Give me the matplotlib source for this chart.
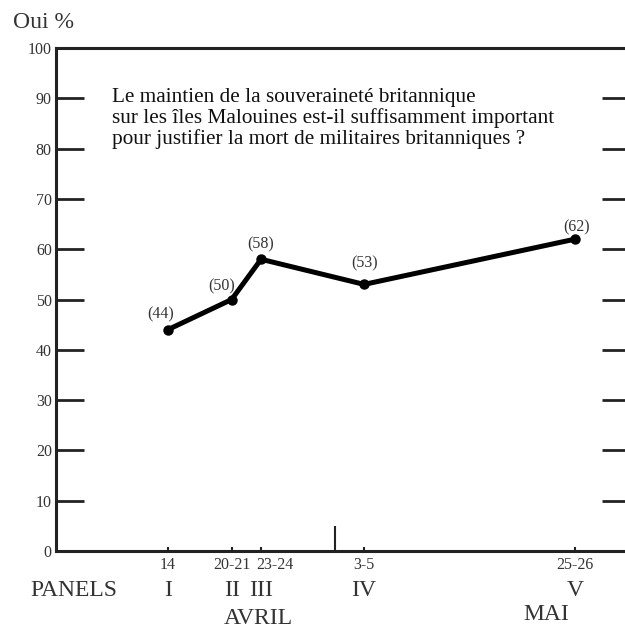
import matplotlib.pyplot as plt
from matplotlib.transforms import blended_transform_factory

# day index: April = 1..30, May = 31..
days = [14, 20.5, 23.5, 34, 55.5]
oui = [44, 50, 58, 53, 62]
dates = ["14", "20-21", "23-24", "3-5", "25-26"]
panels = ["I", "II", "III", "IV", "V"]
month_break = 31

question = ("Le maintien de la souveraineté britannique\n"
            "sur les îles Malouines est-il suffisamment important\n"
            "pour justifier la mort de militaires britanniques ?")

plt.rcParams['font.family'] = ['Liberation Serif', 'DejaVu Serif']

fig = plt.figure(figsize=(6.25, 6.30), dpi=100)
ax = fig.add_axes([56 / 625, 1 - 551 / 630, 574 / 625, 503 / 630])
ax.set_xlim(2.6, 61.1)
ax.set_ylim(0, 100)

for s in ax.spines.values():
    s.set_linewidth(2.2)
    s.set_color('#222222')

ax.set_yticks(range(0, 101, 10))
ax.tick_params(axis='y', direction='in', length=20, width=2, color='#222222',
               labelsize=11.5, right=True, labelright=False, pad=3,
               labelcolor='#333333')
ax.set_xticks(days + [month_break])
ax.set_xticklabels([])
ax.tick_params(axis='x', direction='in', length=3, width=1.5, color='#222222')
ax.get_xticklines()[-2].set_markersize(18)

ax.plot(days, oui, color='black', lw=3.6, marker='o', ms=6.5,
        solid_capstyle='round')

# label offsets in pixels (dx, dy) as seen on the original
lab_off = [(-7, 15), (-10, 13), (0, 15), (0, 21), (2, 12)]
for (d, v), (dx, dy) in zip(zip(days, oui), lab_off):
    ax.annotate(f"({v})", (d, v), xytext=(dx * 0.72, dy * 0.72),
                textcoords='offset points', ha='center', va='center',
                fontsize=11.5, color='#333333')

ax.text(0.098, 0.92, question, transform=ax.transAxes, ha='left', va='top',
        fontsize=15.3, linespacing=1.08, color='#111111')

tr = blended_transform_factory(ax.transData, fig.transFigure)
for i, (d, lab, p) in enumerate(zip(days, dates, panels)):
    if lab == "23-24":
        ax.annotate(lab, (d, 1 - 565 / 630), xycoords=tr,
                    xytext=(-5 * 0.72, 0), textcoords='offset points',
                    ha='left', va='center', fontsize=11.5, color='#333333')
    else:
        ax.text(d, 1 - 565 / 630, lab, transform=tr, ha='center',
                va='center', fontsize=11.5, color='#333333')
    ax.text(d, 1 - 590 / 630, p, transform=tr, ha='center', va='center',
            fontsize=17, color='#333333')

fig.text(74 / 625, 1 - 590 / 630, "PANELS", ha='center', va='center',
         fontsize=17, color='#333333')
fig.text(258 / 625, 1 - 619 / 630, "AVRIL", ha='center', va='center',
         fontsize=17, color='#333333')
fig.text(546 / 625, 1 - 615 / 630, "MAI", ha='center', va='center',
         fontsize=17, color='#333333')
fig.text(13 / 625, 1 - 22 / 630, "Oui %", ha='left', va='center',
         fontsize=17, color='#333333')

fig.savefig("out.png", dpi=100)
